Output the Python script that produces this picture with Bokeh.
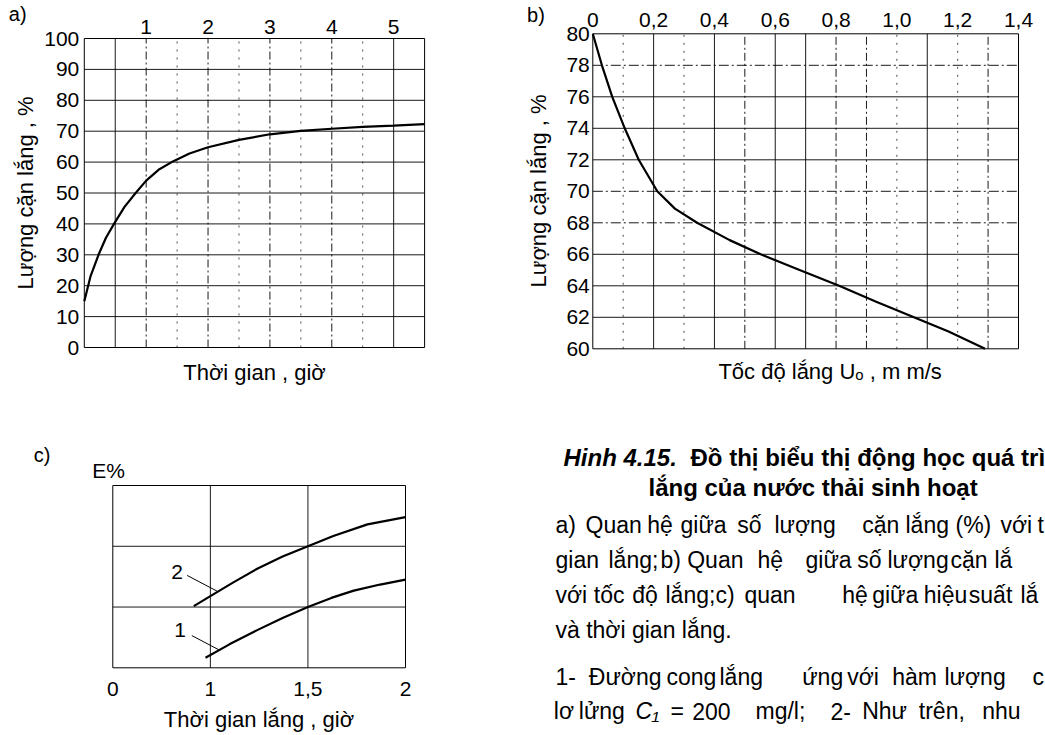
from bokeh.plotting import figure
from bokeh.models import FixedTicker, LinearAxis, Range1d
from bokeh.layouts import row, column
from bokeh.embed import file_html
from bokeh.resources import INLINE
from bokeh.core.properties import value
import numpy as np

FONT = "Liberation Sans"

# ---------------- data ----------------
# a) settled sludge (%) vs settling time (h)
a_time = [0, 0.1, 0.23, 0.35, 0.48, 0.65, 0.83, 1.0, 1.2, 1.44, 1.7, 2.0, 2.5, 3.0, 3.5, 4.0, 4.5, 5.0, 5.5]
a_pct = [15, 23, 30, 35.5, 40, 45.5, 50, 54, 57.5, 60.3, 62.8, 64.8, 67.2, 69, 70.1, 70.8, 71.4, 71.8, 72.3]
a_xlim = (0, 5.5)
a_ylim = (0, 100)
a_top_ticks = [1, 2, 3, 4, 5]
a_y_ticks = [0, 10, 20, 30, 40, 50, 60, 70, 80, 90, 100]

# b) settled sludge (%) vs settling velocity U0 (mm/s)
b_speed = [0, 0.03, 0.064, 0.105, 0.151, 0.212, 0.27, 0.343, 0.45, 0.552, 0.68, 0.81, 0.93, 1.056, 1.17, 1.29]
b_pct = [80, 78, 76, 74, 72, 70, 68.9, 68, 66.9, 66, 65, 64, 63, 62, 61.1, 60]
b_xlim = (0, 1.4)
b_ylim = (60, 80)
b_top_ticks = [0, 0.2, 0.4, 0.6, 0.8, 1.0, 1.2, 1.4]
b_top_labels = ["0", "0,2", "0,4", "0,6", "0,8", "1,0", "1,2", "1,4"]
b_y_ticks = [60, 62, 64, 66, 68, 70, 72, 74, 76, 78, 80]

# c) efficiency E% vs settling time (h) - axis is not linear in hours
c_tick_hours = [0, 1, 1.5, 2]
c_tick_labels = ["0", "1", "1,5", "2"]
c_ylim = (0, 3)
c1_time = [0.95, 1.1, 1.24, 1.37, 1.5, 1.62, 1.735, 1.87, 2.0]
c1_E = [0.165, 0.39, 0.62, 0.82, 1.0, 1.15, 1.27, 1.37, 1.45]
c2_time = [0.83, 1.0, 1.12, 1.24, 1.37, 1.5, 1.63, 1.805, 2.0]
c2_E = [1.015, 1.18, 1.41, 1.63, 1.83, 2.0, 2.17, 2.36, 2.48]

c_positions = list(range(len(c_tick_hours)))
c_xlim = (c_positions[0], c_positions[-1])


def cpos(t):
    return np.interp(t, c_tick_hours, c_positions)


# ---------------- helpers ----------------
def panel_fig(w, h, box, xlim, ylim):
    """Figure whose frame fills the canvas; box = pixel edges (l, r, t, b) of the plot box."""
    left, right, top, bottom = box
    sx = (right - left) / (xlim[1] - xlim[0])
    sy = (bottom - top) / (ylim[1] - ylim[0])
    xr = Range1d(xlim[0] - left / sx, xlim[1] + (w - right) / sx)
    yr = Range1d(ylim[0] - (h - bottom) / sy, ylim[1] + top / sy)
    p = figure(width=w, height=h, x_range=xr, y_range=yr, output_backend="svg",
               toolbar_location=None, x_axis_location=None, y_axis_location=None,
               min_border=0, frame_align=False)
    p.outline_line_color = None
    p.xgrid.visible = False
    p.ygrid.visible = False
    p.background_fill_color = "white"
    p.border_fill_color = "white"
    return p


def style_axis(ax, size="21px"):
    ax.major_label_text_font = FONT
    ax.major_label_text_font_size = size
    ax.major_label_text_color = "black"
    ax.axis_label_text_font = FONT
    ax.axis_label_text_font_size = "22px"
    ax.axis_label_text_font_style = "normal"
    ax.axis_label_text_color = "black"
    ax.axis_line_color = None
    ax.major_tick_line_color = None
    ax.minor_tick_line_color = None
    ax.major_tick_in = 0
    ax.major_tick_out = 0
    ax.minor_tick_in = 0
    ax.minor_tick_out = 0


def add_axis(p, side, loc, ticks, bounds, standoff, label=None, label_standoff=5, overrides=None):
    ax = LinearAxis(fixed_location=loc, ticker=FixedTicker(ticks=ticks), bounds=bounds)
    style_axis(ax)
    ax.major_label_standoff = standoff
    if overrides:
        ax.major_label_overrides = overrides
    if label:
        ax.axis_label = label
        ax.axis_label_standoff = label_standoff
    p.add_layout(ax, side)
    return ax


def vlines(p, xs, ylim, dash="solid", alpha=0.9):
    n = len(xs)
    p.segment(x0=xs, x1=xs, y0=[ylim[0]] * n, y1=[ylim[1]] * n, line_color="black",
              line_width=1, line_alpha=alpha, line_dash=dash)


def hlines(p, ys, xlim, dash="solid", alpha=0.9):
    n = len(ys)
    p.segment(x0=[xlim[0]] * n, x1=[xlim[1]] * n, y0=ys, y1=ys, line_color="black",
              line_width=1, line_alpha=alpha, line_dash=dash)


def box(p, xlim, ylim):
    p.quad(left=[xlim[0]], right=[xlim[1]], bottom=[ylim[0]], top=[ylim[1]],
           fill_color=None, line_color="black", line_width=1)


def note(p, x, y, text, size="20px", align="left", baseline="alphabetic", style="normal"):
    p.text(x=[x], y=[y], text=[text], text_font=value(FONT), text_font_size=size,
           text_align=align, text_baseline=baseline, text_color="black", text_font_style=style)


# ---------------- panel a ----------------
pa = panel_fig(510, 400, (83.8, 424.1, 38, 347), a_xlim, a_ylim)
hlines(pa, a_y_ticks[1:-1], a_xlim)
vlines(pa, [0.5, 5.0], a_ylim)
vlines(pa, [1, 2, 3, 4], a_ylim, dash="8 3 2 3")
vlines(pa, [1.5, 2.5, 3.5, 4.5], a_ylim, dash="2 6", alpha=0.7)
box(pa, a_xlim, a_ylim)
pa.line(a_time, a_pct, line_color="black", line_width=2.2)
add_axis(pa, "above", a_ylim[1], a_top_ticks, a_xlim, 5)
add_axis(pa, "left", a_xlim[0], a_y_ticks, a_ylim, 5, "Lượng cặn lắng , %", 3)
add_axis(pa, "below", a_ylim[0], [], a_xlim, 0, "Thời gian , giờ", 12)
note(pa, -1.22, 108.0, "a)")

# ---------------- panel b ----------------
pb = panel_fig(535, 400, (82.3, 508.0, 33.3, 348.3), b_xlim, b_ylim)
hlines(pb, [62, 64, 66, 72, 74, 76], b_xlim)
hlines(pb, [68, 70, 78], b_xlim, dash="10 3 2 3")
vlines(pb, [0.2, 0.4, 0.6, 0.7, 1.1], b_ylim)
vlines(pb, [0.5, 0.8, 0.9, 1.3], b_ylim, dash="8 3 2 3")
vlines(pb, [0.1, 0.3, 1.0, 1.2], b_ylim, dash="2 6", alpha=0.7)
box(pb, b_xlim, b_ylim)
pb.line(b_speed, b_pct, line_color="black", line_width=2.2)
add_axis(pb, "above", b_ylim[1], b_top_ticks, b_xlim, 7,
         overrides={t: l for t, l in zip(b_top_ticks, b_top_labels)})
add_axis(pb, "left", b_xlim[0], b_y_ticks, b_ylim, 3, "Lượng cặn lắng , %", 12)
note(pb, -0.216, 81.2, "b)")
note(pb, 0.413, 58.55, "Tốc độ lắng Uₒ , m m/s", size="22px")

# ---------------- panel c ----------------
pc = panel_fig(510, 335, (112.3, 405.0, 85.0, 267.3), c_xlim, c_ylim)
vlines(pc, [1, 2], c_ylim)
hlines(pc, [1, 2], c_xlim)
box(pc, c_xlim, c_ylim)
pc.line(cpos(c1_time), c1_E, line_color="black", line_width=2.2)
pc.line(cpos(c2_time), c2_E, line_color="black", line_width=2.2)
pc.segment(x0=[0.762, 0.81], y0=[1.52, 0.53], x1=[1.07, 1.10], y1=[1.26, 0.285],
           line_color="black", line_width=1)
note(pc, 0.66, 1.58, "2", size="21px", align="center", baseline="middle")
note(pc, 0.69, 0.63, "1", size="21px", align="center", baseline="middle")
add_axis(pc, "below", c_ylim[0], c_positions, c_xlim, 14, "Thời gian lắng , giờ", 8,
         overrides={int(p): l for p, l in zip(c_positions, c_tick_labels)})
note(pc, -0.81, 3.505, "c)")
note(pc, -0.21, 3.245, "E%", size="21px")

# ---------------- caption ----------------
pt = figure(width=535, height=335, x_range=Range1d(510, 1045), y_range=Range1d(735, 400),
            output_backend="svg", toolbar_location=None, x_axis_location=None,
            y_axis_location=None, min_border=0, frame_align=False)
pt.outline_line_color = None
pt.xgrid.visible = False
pt.ygrid.visible = False
pt.background_fill_color = "white"
pt.border_fill_color = "white"

note(pt, 563, 456.5, "Hinh 4.15.", size="24px", style="bold italic")
note(pt, 690, 456.5, "Đồ thị biểu thị động học quá trì", size="24px", style="bold")
note(pt, 648, 487, "lắng của nước thải sinh hoạt", size="24px", style="bold")

body_lines = [
    (524.5, [(555, "a)"), (585, "Quan"), (646.7, "hệ"), (680, "giữa"), (736.7, "số"),
             (774, "lượng"), (861.7, "cặn"), (905, "lắng"), (955, "(%)"), (1000, "với"),
             (1037, "t")]),
    (559.5, [(555, "gian"), (608, "lắng;"), (660, "b)"), (686.7, "Quan"), (757, "hệ"),
             (805, "giữa"), (856.7, "số"), (887, "lượng"), (950, "cặn"), (994, "lắ")]),
    (594.5, [(555, "với"), (593.3, "tốc"), (631.7, "độ"), (665, "lắng;"), (715, "c)"),
             (744, "quan"), (841.7, "hệ"), (871.7, "giữa"), (923.3, "hiệu"), (968.3, "suất"),
             (1020, "lắ")]),
    (629.5, [(555, "và thời gian lắng.")]),
    (676, [(555, "1-"), (588.3, "Đường"), (666, "cong"), (719, "lắng"), (801.7, "ứng"),
           (846.7, "với"), (891.7, "hàm"), (944, "lượng"), (1032, "c")]),
    (710.5, [(553.3, "lơ"), (578.3, "lửng"), (670, "="), (691.7, "200"), (755, "mg/l;"),
             (830, "2-"), (861.7, "Như"), (918.3, "trên,"), (981.7, "nhu")]),
]
wx, wy, wt = [], [], []
for yy, words in body_lines:
    for xx, w in words:
        wx.append(xx)
        wy.append(yy)
        wt.append(w)
pt.text(x=wx, y=wy, text=wt, text_font=value(FONT), text_font_size="23px",
        text_baseline="alphabetic", text_color="black")
note(pt, 635, 710.5, "C₁", size="23px", style="italic")

layout = column(row(pa, pb), row(pc, pt))
open("out.html", "w").write(file_html(layout, INLINE))
